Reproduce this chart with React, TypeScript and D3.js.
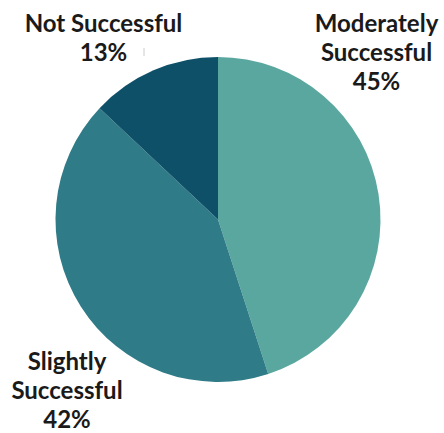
import React from "react";
import * as d3 from "d3";

const categories = ["Moderately Successful", "Slightly Successful", "Not Successful"];
const values = [45, 42, 13];
const colors = ["#5aa7a0", "#2f7b87", "#0f5069"];
const labelLines = [
  ["Moderately", "Successful", "45%"],
  ["Slightly", "Successful", "42%"],
  ["Not Successful", "13%"],
];

const W = 444;
const H = 433;
const cx = 218;
const cy = 219.5;
const R = 162.5;

const labelPos = [
  { x: 376.5, y: 32 },
  { x: 67, y: 370 },
  { x: 103.5, y: 32 },
];

export default function App() {
  const pie = d3.pie<number>().sort(null).value((d) => d);
  const arcs = pie(values);
  const arc = d3.arc<d3.PieArcDatum<number>>().innerRadius(0).outerRadius(R);
  return (
    <svg
      width={W}
      height={H}
      style={{ position: "absolute", left: 0, top: 0 }}
      fontFamily="Lato, 'Noto Sans', sans-serif"
    >
      <rect width={W} height={H} fill="#ffffff" />
      <g transform={`translate(${cx},${cy})`}>
        {arcs.map((a, i) => (
          <path key={categories[i]} d={arc(a) || ""} fill={colors[i]} />
        ))}
      </g>
      <line x1={144} x2={144} y1={48} y2={56} stroke="#cccccc" strokeWidth={1} />
      {labelLines.map((lines, i) => (
        <text
          key={categories[i]}
          x={labelPos[i].x}
          y={labelPos[i].y}
          textAnchor="middle"
          fontSize={24}
          fontWeight={700}
          fill="#1a1a1a"
        >
          {lines.map((l, j) => (
            <tspan key={j} x={labelPos[i].x} dy={j === 0 ? 0 : 29}>
              {l}
            </tspan>
          ))}
        </text>
      ))}
    </svg>
  );
}
